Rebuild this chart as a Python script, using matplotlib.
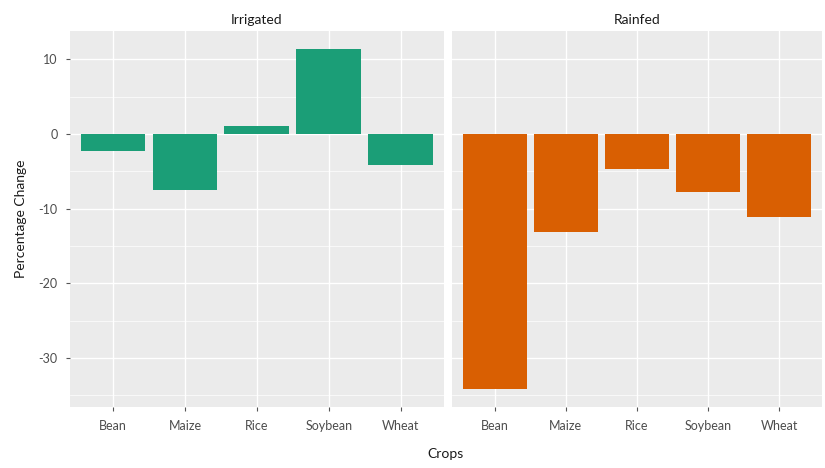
import numpy as np
import matplotlib
matplotlib.use("Agg")
import matplotlib.pyplot as plt

crops = ["Bean", "Maize", "Rice", "Soybean", "Wheat"]
irrigated = [-2.3, -7.5, 1.1, 11.4, -4.2]
rainfed = [-34.2, -13.2, -4.7, -7.8, -11.1]
panels = ["Irrigated", "Rainfed"]
colors = ["#1b9e77", "#d95f02"]

plt.rcParams["font.family"] = ["Lato", "DejaVu Sans"]
plt.rcParams["axes.unicode_minus"] = False

fig = plt.figure(figsize=(8.25, 4.68), dpi=100)
ax1 = fig.add_axes([0.0848, 0.130, 0.453, 0.804])
ax2 = fig.add_axes([0.548, 0.130, 0.448, 0.804], sharey=ax1)

x = np.arange(len(crops))
for ax, vals, title, c in zip([ax1, ax2], [irrigated, rainfed], panels, colors):
    ax.set_facecolor("#ebebeb")
    ax.bar(x, vals, width=0.9, color=c, zorder=3)
    ax.set_xlim(-0.6, 4.6)
    ax.set_xticks(x)
    ax.set_xticklabels(crops)
    ax.set_yticks([-30, -20, -10, 0, 10])
    ax.set_yticks([-35, -25, -15, -5, 5], minor=True)
    ax.grid(True, which="major", color="white", lw=1.0, zorder=0)
    ax.grid(True, which="minor", axis="y", color="white", lw=0.5, zorder=0)
    for s in ax.spines.values():
        s.set_visible(False)
    ax.tick_params(which="major", length=3, color="#555555", labelsize=9,
                   labelcolor="#4d4d4d", pad=6)
    ax.tick_params(which="minor", length=0)
    ax.set_title(title, fontsize=10, color="#1a1a1a", pad=5)

ax1.set_ylim(-36.6, 13.8)
ax2.tick_params(axis="y", left=False, labelleft=False)
ax1.set_ylabel("Percentage Change", fontsize=10, color="#1a1a1a", labelpad=8)
fig.text(0.54, 0.03, "Crops", ha="center", va="center", fontsize=10, color="#1a1a1a")

plt.savefig("out.png", dpi=100)
plt.close()
